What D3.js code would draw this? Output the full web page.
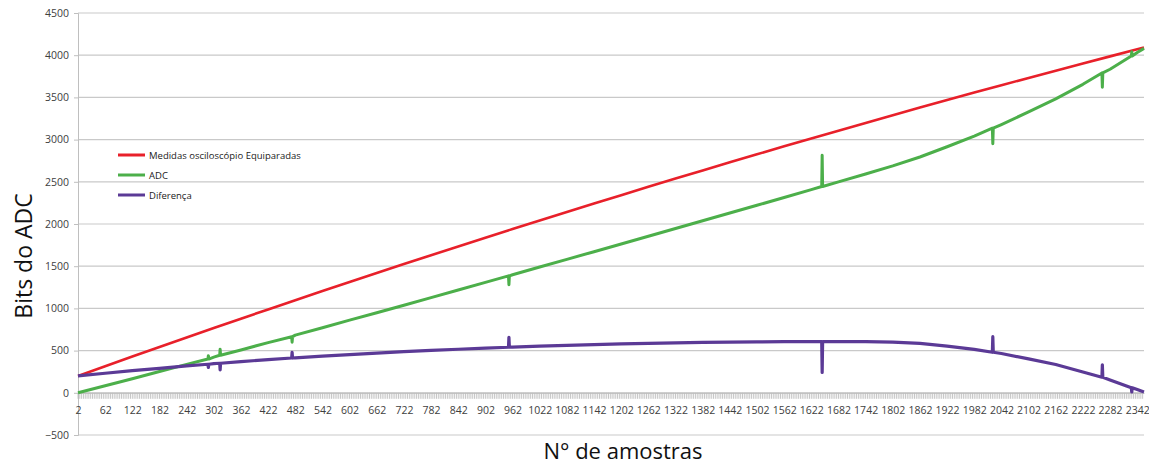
<!DOCTYPE html>
<html>
<head>
<meta charset="utf-8">
<script src="https://cdn.jsdelivr.net/npm/d3@7"></script>
<style>
  body { margin: 0; background: #fff; }
  text { font-family: "Open Sans", "DejaVu Sans", sans-serif; }
</style>
</head>
<body>
<div id="grafico"></div>
<script>
// amostras onde os valores foram lidos
var amostras = [2, 62, 122, 182, 242, 302, 362, 422, 482, 542, 602, 662, 722, 782, 842, 902, 962, 1022,
  1082, 1142, 1202, 1262, 1322, 1382, 1442, 1502, 1562, 1622, 1682, 1742, 1802, 1862, 1922, 1982,
  2042, 2102, 2162, 2222, 2282, 2342, 2357];

var medidas = [200, 315, 429, 542, 655, 767, 878, 988, 1097, 1205, 1313, 1419, 1525, 1630, 1734, 1838,
  1940, 2042, 2143, 2243, 2342, 2441, 2538, 2635, 2731, 2826, 2920, 3014, 3106, 3198, 3289, 3379,
  3468, 3557, 3644, 3731, 3817, 3902, 3986, 4070, 4091];

var adc = [0, 83, 167, 252, 337, 422, 508, 595, 683, 771, 861, 949, 1038, 1128, 1218, 1309, 1399,
  1490, 1581, 1672, 1763, 1855, 1946, 2038, 2130, 2222, 2314, 2407, 2499, 2592, 2689, 2794, 2915,
  3042, 3178, 3329, 3482, 3655, 3834, 4032, 4081];

var diferenca = [200, 232, 262, 290, 318, 345, 370, 393, 414, 434, 452, 470, 487, 502, 516, 529, 541,
  552, 562, 571, 579, 586, 592, 597, 601, 604, 606, 607, 607, 606, 600, 585, 553, 515, 466, 402,
  335, 247, 152, 38, 10];

// picos: [amostra, valor base, valor do pico]
var picosAdc = [[290, 400, 440], [316, 445, 517], [475, 665, 600], [954, 1385, 1280],
  [1646, 2444, 2815], [2023, 3135, 2950], [2265, 3790, 3620], [2330, 3990, 4040]];
var picosDif = [[290, 338, 300], [316, 350, 272], [475, 412, 480], [954, 540, 658],
  [1646, 606, 242], [2023, 480, 665], [2265, 185, 331], [2330, 60, 10]];

var ticksY = [-500, 0, 500, 1000, 1500, 2000, 2500, 3000, 3500, 4000, 4500];
var ticksX = d3.range(2, 2343, 60);

var series = [
  { nome: "Medidas osciloscópio Equiparadas", valores: medidas, picos: [], cor: "#e8202a", largura: 2.6 },
  { nome: "ADC", valores: adc, picos: picosAdc, cor: "#4caf4a", largura: 3 },
  { nome: "Diferença", valores: diferenca, picos: picosDif, cor: "#5b3a96", largura: 3.2 }
];

var width = 1149, height = 468;
var x = d3.scaleLinear().domain([2, 2357]).range([78, 1144]);
var y = d3.scaleLinear().domain([-500, 4500]).range([435, 13]);

var svg = d3.select("#grafico").append("svg")
  .attr("width", width)
  .attr("height", height);

svg.append("rect").attr("width", width).attr("height", height).attr("fill", "#fff");

// linhas de grade
svg.append("g")
  .selectAll("line")
  .data(ticksY)
  .enter()
  .append("line")
  .attr("x1", 78).attr("x2", 1144)
  .attr("y1", d => y(d)).attr("y2", d => y(d))
  .attr("stroke", "#c9c9c9")
  .attr("stroke-width", 1.2);

// eixo Y
var eixoY = svg.append("g")
  .attr("transform", "translate(78,0)")
  .call(d3.axisLeft(y).tickValues(ticksY).tickSize(4).tickPadding(5).tickFormat(d3.format("d")));
eixoY.select(".domain").attr("stroke", "#bfbfbf");
eixoY.selectAll(".tick line").attr("stroke", "#bfbfbf");
eixoY.selectAll(".tick text").attr("fill", "#404040").style("font-size", "10.5px");

// marcas densas do eixo X (uma por grupo de amostras)
svg.append("g")
  .selectAll("line")
  .data(d3.range(2, 2358, 4))
  .enter()
  .append("line")
  .attr("x1", d => x(d)).attr("x2", d => x(d))
  .attr("y1", y(0)).attr("y2", y(0) + 6)
  .attr("stroke", "#b8b8b8")
  .attr("stroke-width", 0.8);

// eixo X no zero
var eixoX = svg.append("g")
  .attr("transform", "translate(0," + y(0) + ")")
  .call(d3.axisBottom(x).tickValues(ticksX).tickSize(0).tickPadding(14).tickFormat(d3.format("d")));
eixoX.select(".domain").attr("stroke", "#bfbfbf");
eixoX.selectAll(".tick text").attr("fill", "#404040").style("font-size", "10.5px");

// linhas das séries
var linha = d3.line().x(d => x(d[0])).y(d => y(d[1]));

series.forEach(function (s) {
  var pontos = amostras.map((a, i) => [a, s.valores[i]]);
  s.picos.forEach(function (p) {
    pontos.push([p[0] - 1, p[1]], [p[0], p[2]], [p[0] + 1, p[1]]);
  });
  pontos.sort((a, b) => a[0] - b[0]);
  svg.append("path")
    .datum(pontos)
    .attr("fill", "none")
    .attr("stroke", s.cor)
    .attr("stroke-width", s.largura)
    .attr("stroke-linejoin", "round")
    .attr("d", linha);
});

// legenda
var legenda = svg.append("g").attr("transform", "translate(118,155)");
series.forEach(function (s, i) {
  legenda.append("line")
    .attr("x1", 0).attr("x2", 27)
    .attr("y1", i * 20).attr("y2", i * 20)
    .attr("stroke", s.cor)
    .attr("stroke-width", 3);
  legenda.append("text")
    .attr("x", 31).attr("y", i * 20 + 3.5)
    .attr("fill", "#222")
    .style("font-size", "9.5px")
    .text(s.nome);
});

// títulos dos eixos
svg.append("text")
  .attr("x", 623).attr("y", 459)
  .attr("text-anchor", "middle")
  .attr("fill", "#111")
  .style("font-size", "22px")
  .text("N° de amostras");

svg.append("text")
  .attr("transform", "translate(32,256) rotate(-90)")
  .attr("text-anchor", "middle")
  .attr("fill", "#111")
  .style("font-size", "23px")
  .text("Bits do ADC");
</script>
</body>
</html>
